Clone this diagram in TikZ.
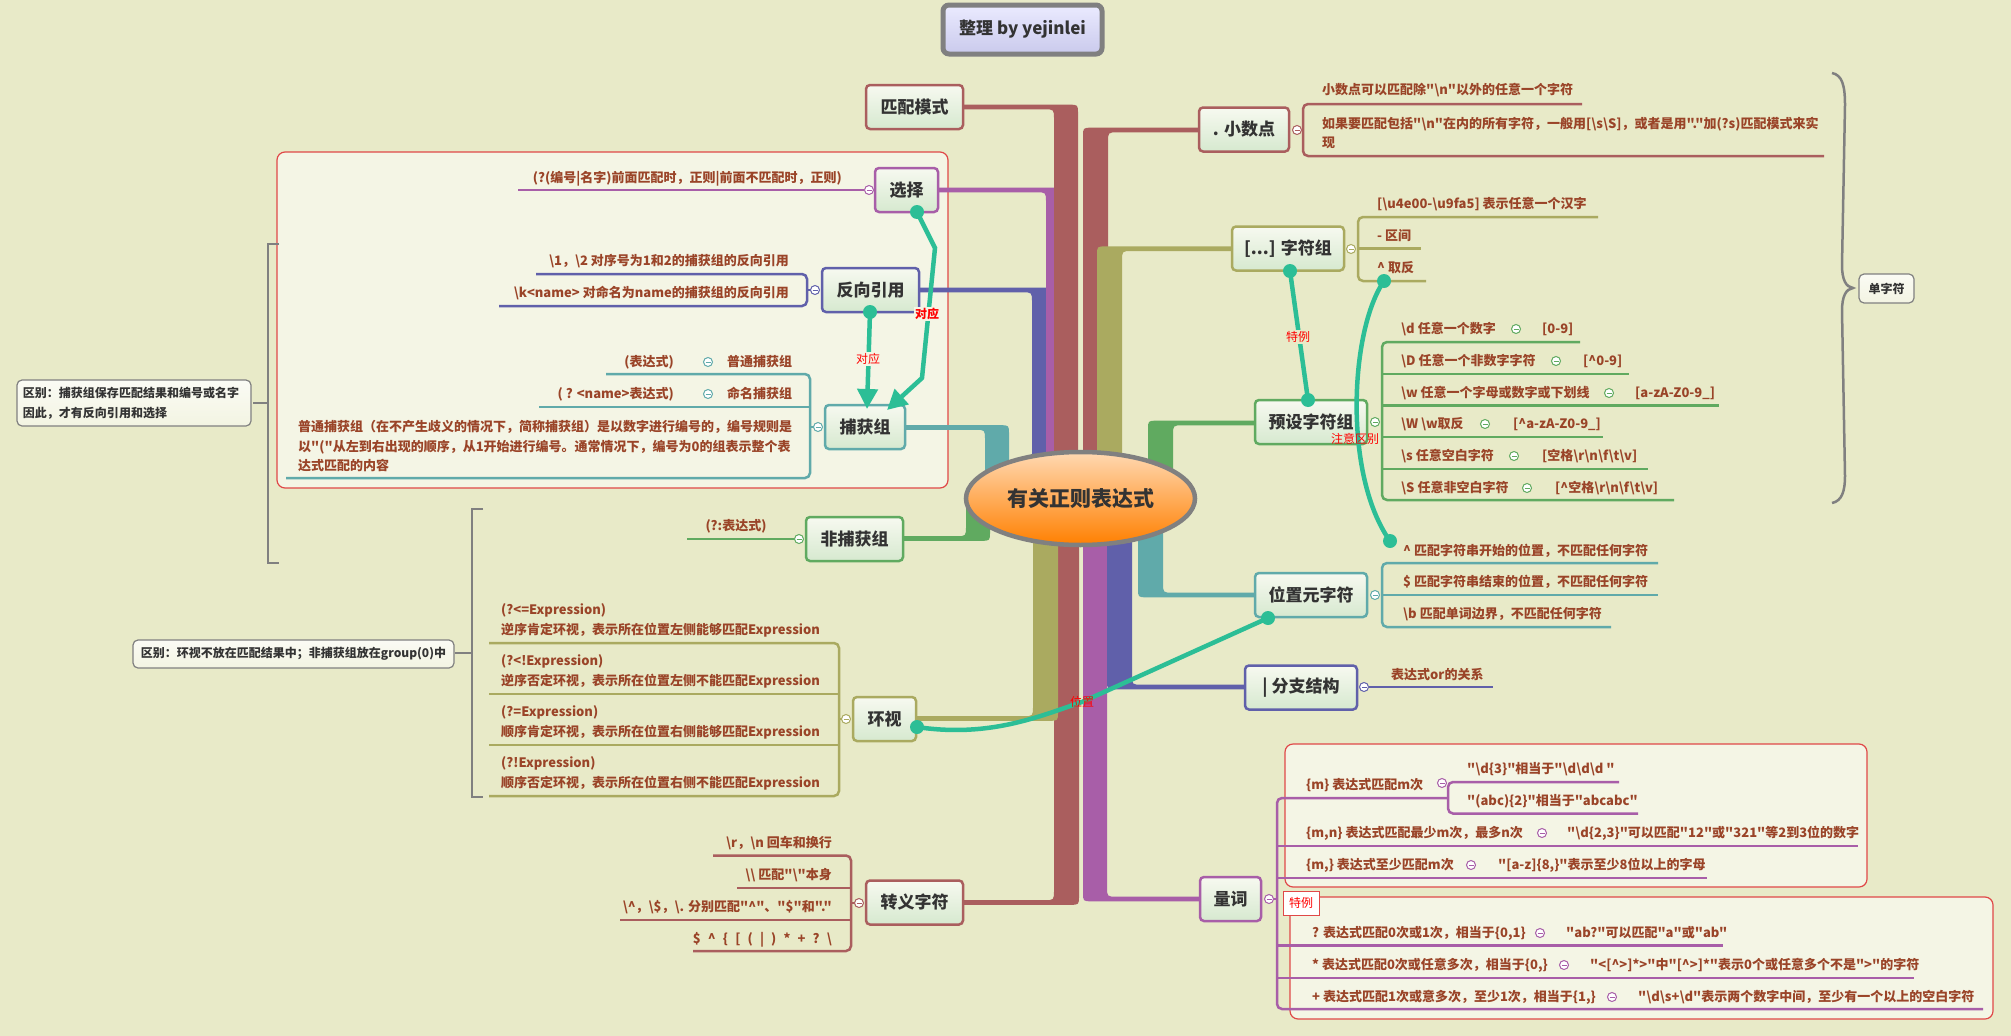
\documentclass[tikz,border=0pt]{standalone}
\usepackage{fontspec}
\setmainfont{Noto Sans CJK SC}[Ligatures=TeXOff]
\usetikzlibrary{shapes.geometric,arrows.meta,shadings}
\definecolor{bg}{HTML}{E8EAC8}
\definecolor{framefill}{HTML}{F4F5E5}
\definecolor{framered}{HTML}{E04848}
\definecolor{ctxt}{HTML}{9A4428}
\definecolor{maintxt}{HTML}{333333}
\definecolor{bRed}{HTML}{AA5E5E}
\definecolor{bPur}{HTML}{A85EA8}
\definecolor{bBlu}{HTML}{6060AA}
\definecolor{bTea}{HTML}{60AAAA}
\definecolor{bGre}{HTML}{60AA60}
\definecolor{bOli}{HTML}{AAAA60}
\definecolor{conn}{HTML}{2CBE96}
\definecolor{boxtop}{HTML}{F7F9F0}
\definecolor{boxbot}{HTML}{D6E9CF}
\definecolor{gr}{HTML}{808080}
\newcommand\mmbranch[6]{%
 \pgfmathsetmacro\mmS{sign(#5-#2)}%
 \pgfmathsetmacro\mmD{sign(#6-#3)}%
 \pgfmathsetmacro\mmYA{#3-\mmD*2.3}%
 \pgfmathsetmacro\mmYB{#3+\mmD*2.3}%
 \pgfmathsetmacro\mmXO{#5-\mmS*9}%
 \pgfmathsetmacro\mmYAR{\mmYA+\mmD*9}%
 \pgfmathsetmacro\mmYBR{\mmYB+\mmD*10}%
 \pgfmathsetmacro\mmXI{#4-\mmS*10}%
 \fill[#1] (#2,\mmYA) -- (\mmXO,\mmYA) .. controls (#5,\mmYA) .. (#5,\mmYAR) -- (#5,#6) -- (#4,#6) -- (#4,\mmYBR) .. controls (#4,\mmYB) .. (\mmXI,\mmYB) -- (#2,\mmYB) -- cycle;}
\newcommand\mmcirc[4]{%
 \node[circle, draw=#4, fill=white, line width=1, minimum size=9pt, inner sep=0] (#1) at (#2,#3) {};
 \draw[#4, line width=1] (#2-2.5,#3) -- (#2+2.5,#3);}
\newcommand\mmsp{\hspace{0.55em}}
\begin{document}
\begin{tikzpicture}[x=1pt,y=-1pt,
  mainbox/.style={draw=#1, line width=2.5pt, rounded corners=4pt, top color=boxtop, bottom color=boxbot, font=\fontsize{17}{20}\selectfont\bfseries, text=maintxt, inner sep=0, minimum height=44pt},
  ctx/.style={font=\fontsize{13}{20}\selectfont\bfseries, text=ctxt, inner sep=0, text height=11pt, text depth=2.5pt},
  cl/.style={draw=#1, line width=2.5pt, rounded corners=5pt},
  frame/.style={draw=framered, fill=framefill, line width=1.2pt, rounded corners=8pt},
  notebox/.style={draw=gr, line width=1.2pt, rounded corners=5pt, top color=white!60!framefill, bottom color=framefill!90!bg, font=\fontsize{12}{20}\selectfont\bfseries, text=maintxt, align=left, inner sep=0},
  cn/.style={draw=conn, line width=4.5pt},
  lab/.style={font=\fontsize{12}{14}\selectfont, text=red, inner sep=1pt},
  brk/.style={draw=gr, line width=2pt}]
\fill[bg] (0,0) rectangle (2011,1036);
\useasboundingbox (0,0) rectangle (2011,1036);

% frames
\draw[frame] (277,152) rectangle (948,488);
\draw[frame] (1285,744) rectangle (1867,887);
\draw[frame] (1290,897) rectangle (1993,1019);

% branches
\mmbranch{bBlu}{919}{290}{1032}{1056}{470}
\mmbranch{bPur}{938}{190}{1046}{1070}{470}
\mmbranch{bRed}{963}{107}{1054}{1078}{470}
\mmbranch{bTea}{905}{427.5}{985}{1009}{478}
\mmbranch{bGre}{903}{538.5}{966}{990}{505}
\mmbranch{bRed}{963}{902.5}{1054}{1079}{530}
\mmbranch{bOli}{916}{718.5}{1033}{1058}{530}
\mmbranch{bRed}{1199}{130}{1108}{1083}{470}
\mmbranch{bOli}{1232}{248.7}{1122}{1097}{470}
\mmbranch{bGre}{1255}{423}{1173}{1148}{480}
\mmbranch{bTea}{1255}{595}{1163}{1138}{520}
\mmbranch{bPur}{1200}{899}{1107}{1083}{530}
\mmbranch{bBlu}{1245}{687}{1132}{1107}{530}

% centre
\node[ellipse, draw=gr, line width=4.5pt, top color=orange!30!white, bottom color=orange, minimum width=229pt, minimum height=93pt, inner sep=0, font=\fontsize{21}{24}\selectfont\bfseries, text=maintxt] (center) at (1080.5,498.5) {有关正则表达式};

% title
\node[draw=gr, line width=5pt, rounded corners=6pt, top color=blue!8!white, bottom color=blue!30!white!75!gray!60!white, minimum width=159pt, minimum height=49pt, inner sep=0, font=\fontsize{17}{20}\selectfont\bfseries, text=maintxt] (title) at (1022.5,29.5) {整理 by yejinlei};

% ---- child lines ----
\draw[cl=bRed] (1582,104) -- (1303,104) -- (1303,156) -- (1824,156);
\draw[cl=bOli] (1598,217) -- (1358,217) -- (1358,281) -- (1426,281);
\draw[cl=bOli] (1358,248.5) -- (1421,248.5);
\draw[cl=bGre] (1580,342) -- (1382,342) -- (1382,500) -- (1674,500);
\draw[cl=bGre] (1382,374) -- (1629,374);
\draw[cl=bGre] (1382,405.5) -- (1719,405.5);
\draw[cl=bGre] (1382,437) -- (1603,437);
\draw[cl=bGre] (1382,469) -- (1648,469);
\draw[cl=bTea] (1658,563) -- (1382,563) -- (1382,627) -- (1611,627);
\draw[cl=bTea] (1382,595) -- (1658,595);
\draw[cl=bBlu] (1369,687) -- (1493,687);
\draw[cl=bPur] (1448,798) -- (1277,798) -- (1277,1009) -- (1983,1009);
\draw[cl=bPur] (1277,846) -- (1858,846);
\draw[cl=bPur] (1277,878) -- (1707,878);
\draw[cl=bPur] (1277,945.5) -- (1723,945.5);
\draw[cl=bPur] (1277,978) -- (1914,978);
\draw[cl=bPur] (1619,782) -- (1448,782) -- (1448,813.5) -- (1638,813.5);
\draw[cl=bPur] (1269,899) -- (1277,899);
\draw[cl=bPur] (518,190) -- (864,190);
\draw[cl=bBlu] (536,274) -- (807,274) -- (807,306) -- (499,306);
\draw[cl=bBlu] (807,290) -- (815,290);
\draw[cl=bTea] (606,374) -- (810,374) -- (810,478) -- (286,478);
\draw[cl=bTea] (539,407) -- (810,407);
\draw[cl=bTea] (810,427) -- (818,427);
\draw[cl=bGre] (687,539) -- (799,539);
\draw[cl=bOli] (489,643) -- (839,643) -- (839,796) -- (489,796);
\draw[cl=bOli] (489,694) -- (839,694);
\draw[cl=bOli] (489,745) -- (839,745);
\draw[cl=bOli] (839,719) -- (846,719);
\draw[cl=bRed] (713,855.5) -- (851,855.5) -- (851,951) -- (693,951);
\draw[cl=bRed] (737,888) -- (851,888);
\draw[cl=bRed] (620,920) -- (851,920);
\draw[cl=bRed] (851,903) -- (859,903);

% brackets
\draw[brk] (279,244) -- (268,244) -- (268,563) -- (279,563);
\draw[brk] (268,403) -- (253,403);
\draw[brk] (483,508.5) -- (472,508.5) -- (472,797) -- (483,797);
\draw[brk] (472,653) -- (455,653);
% brace
\draw[draw=gr, line width=2.5pt] (1832,73) .. controls (1842,75) and (1845,85) .. (1845,105) -- (1842,265) .. controls (1842,280) and (1846,287) .. (1853,288) .. controls (1846,289) and (1842,296) .. (1842,311) -- (1845,476) .. controls (1845,491) and (1842,501) .. (1832,503);

% ---- main nodes ----
\node[mainbox=bRed, minimum width=97pt] (pipei) at (914.5,107) {匹配模式};
\node[mainbox=bPur, minimum width=63pt] (xuanze) at (906.5,190) {选择};
\node[mainbox=bBlu, minimum width=97pt] (fanxiang) at (870.5,290) {反向引用};
\node[mainbox=bTea, minimum width=80pt] (buhuo) at (865,427) {捕获组};
\node[mainbox=bGre, minimum width=97pt] (feibuhuo) at (854.5,539) {非捕获组};
\node[mainbox=bOli, minimum width=63pt] (huanshi) at (884.5,719) {环视};
\node[mainbox=bRed, minimum width=97pt] (zhuanyi) at (914.5,902.5) {转义字符};
\node[mainbox=bRed, minimum width=90pt] (dian) at (1244,129.5) {. 小数点};
\node[mainbox=bOli, minimum width=112pt] (zifuzu) at (1288,248.5) {[...] 字符组};
\node[mainbox=bGre, minimum width=112pt] (yushe) at (1311,422) {预设字符组};
\node[mainbox=bTea, minimum width=112pt] (weizhi) at (1311,595) {位置元字符};
\node[mainbox=bBlu, minimum width=112pt] (fenzhi) at (1301,687.5) {| 分支结构};
\node[mainbox=bPur, minimum width=61pt] (liangci) at (1230.5,899) {量词};

% notes
\node[notebox, minimum width=234pt, minimum height=46pt, text width=222pt] (note1) at (134,403) {\fontsize{12}{20}\selectfont 区别：捕获组保存匹配结果和编号或名字\\因此，才有反向引用和选择};
\node[notebox, minimum width=321pt, minimum height=28pt] (note2) at (293.5,654) {区别：环视不放在匹配结果中；非捕获组放在group(0)中};
\node[notebox, minimum width=55pt, minimum height=29pt] (dzf) at (1886.5,288.5) {单字符};

% ---- texts right ----
\node[ctx, anchor=west] (d1) at (1322,90) {小数点可以匹配除"\textbackslash n"以外的任意一个字符};
\node[ctx, anchor=west] (d2) at (1322,124) {如果要匹配包括"\textbackslash n"在内的所有字符，一般用[\textbackslash s\textbackslash S]，或者是用"."加(?s)匹配模式来实};
\node[ctx, anchor=west] (d2b) at (1322,143) {现};
\node[ctx, anchor=west] (z1) at (1377,204) {[\textbackslash u4e00-\textbackslash u9fa5] 表示任意一个汉字};
\node[ctx, anchor=west] (z2) at (1377,236) {- 区间};
\node[ctx, anchor=west] (z3) at (1377,268) {\textasciicircum{} 取反};

\node[ctx, anchor=west] (y1) at (1401,329) {\textbackslash d 任意一个数字};
\node[ctx, anchor=west] (y1s) at (1542,329) {[0-9]};
\node[ctx, anchor=west] (y2) at (1401,361) {\textbackslash D 任意一个非数字字符};
\node[ctx, anchor=west] (y2s) at (1583,361) {[\textasciicircum 0-9]};
\node[ctx, anchor=west] (y3) at (1401,393) {\textbackslash w 任意一个字母或数字或下划线};
\node[ctx, anchor=west] (y3s) at (1635,393) {[a-zA-Z0-9\_]};
\node[ctx, anchor=west] (y4) at (1401,424) {\textbackslash W \textbackslash w取反};
\node[ctx, anchor=west] (y4s) at (1513,424) {[\textasciicircum a-zA-Z0-9\_]};
\node[ctx, anchor=west] (y5) at (1401,456) {\textbackslash s 任意空白字符};
\node[ctx, anchor=west] (y5s) at (1542,456) {[空格\textbackslash r\textbackslash n\textbackslash f\textbackslash t\textbackslash v]};
\node[ctx, anchor=west] (y6) at (1401,488) {\textbackslash S 任意非空白字符};
\node[ctx, anchor=west] (y6s) at (1555,488) {[\textasciicircum 空格\textbackslash r\textbackslash n\textbackslash f\textbackslash t\textbackslash v]};

\node[ctx, anchor=west] (w1) at (1403,551) {\textasciicircum{} 匹配字符串开始的位置，不匹配任何字符};
\node[ctx, anchor=west] (w2) at (1403,582) {\$ 匹配字符串结束的位置，不匹配任何字符};
\node[ctx, anchor=west] (w3) at (1403,614.5) {\textbackslash b 匹配单词边界，不匹配任何字符};
\node[ctx, anchor=west] (f1) at (1391,675) {表达式or的关系};

\node[ctx, anchor=west] (l1) at (1306,785) {\{m\} 表达式匹配m次};
\node[ctx, anchor=west] (l1a) at (1467,769) {"\textbackslash d\{3\}"相当于"\textbackslash d\textbackslash d\textbackslash d "};
\node[ctx, anchor=west] (l1b) at (1467,801) {"(abc)\{2\}"相当于"abcabc"};
\node[ctx, anchor=west] (l2) at (1306,833) {\{m,n\} 表达式匹配最少m次，最多n次};
\node[ctx, anchor=west] (l2s) at (1567,833) {"\textbackslash d\{2,3\}"可以匹配"12"或"321"等2到3位的数字};
\node[ctx, anchor=west] (l3) at (1306,865) {\{m,\} 表达式至少匹配m次};
\node[ctx, anchor=west] (l3s) at (1498,865) {"[a-z]\{8,\}"表示至少8位以上的字母};
\node[ctx, anchor=west] (l4) at (1312,933) {? 表达式匹配0次或1次，相当于\{0,1\}};
\node[ctx, anchor=west] (l4s) at (1566,933) {"ab?"可以匹配"a"或"ab"};
\node[ctx, anchor=west] (l5) at (1312,965) {* 表达式匹配0次或任意多次，相当于\{0,\}};
\node[ctx, anchor=west] (l5s) at (1590,965) {"<[\textasciicircum >]*>"中"[\textasciicircum >]*"表示0个或任意多个不是">"的字符};
\node[ctx, anchor=west] (l6) at (1312,997) {+ 表达式匹配1次或意多次，至少1次，相当于\{1,\}};
\node[ctx, anchor=west] (l6s) at (1638,997) {"\textbackslash d\textbackslash s+\textbackslash d"表示两个数字中间，至少有一个以上的空白字符};
\node[draw=framered, fill=white, line width=1pt, minimum width=36pt, minimum height=24pt, inner sep=0, font=\fontsize{12}{14}\selectfont, text=red] (teli2) at (1301,903) {特例};

% ---- texts left ----
\node[ctx, anchor=east] (x1) at (842,178) {(?(编号|名字)前面匹配时，正则|前面不匹配时，正则)};
\node[ctx, anchor=east] (r1) at (789,261) {\textbackslash 1，\textbackslash 2 对序号为1和2的捕获组的反向引用};
\node[ctx, anchor=east] (r2) at (789,293) {\textbackslash k<name> 对命名为name的捕获组的反向引用};
\node[ctx, anchor=east] (b1s) at (674,362) {(表达式)};
\node[ctx, anchor=west] (b1) at (727,362) {普通捕获组};
\node[ctx, anchor=east] (b2s) at (674,394) {( ? <name>表达式)};
\node[ctx, anchor=west] (b2) at (727,394) {命名捕获组};
\node[ctx, anchor=west] (b3a) at (298,427) {普通捕获组（在不产生歧义的情况下，简称捕获组）是以数字进行编号的，编号规则是};
\node[ctx, anchor=west] (b3b) at (298,447) {以"("从左到右出现的顺序，从1开始进行编号。通常情况下，编号为0的组表示整个表};
\node[ctx, anchor=west] (b3c) at (298,466) {达式匹配的内容};
\node[ctx] (fb1) at (736,526) {(?:表达式)};
\node[ctx, anchor=west] (h1a) at (501,610) {(?<=Expression)};
\node[ctx, anchor=west] (h1b) at (501,630) {逆序肯定环视，表示所在位置左侧能够匹配Expression};
\node[ctx, anchor=west] (h2a) at (501,661) {(?<!Expression)};
\node[ctx, anchor=west] (h2b) at (501,681) {逆序否定环视，表示所在位置左侧不能匹配Expression};
\node[ctx, anchor=west] (h3a) at (501,712) {(?=Expression)};
\node[ctx, anchor=west] (h3b) at (501,732.5) {顺序肯定环视，表示所在位置右侧能够匹配Expression};
\node[ctx, anchor=west] (h4a) at (501,763.5) {(?!Expression)};
\node[ctx, anchor=west] (h4b) at (501,783.5) {顺序否定环视，表示所在位置右侧不能匹配Expression};
\node[ctx, anchor=east] (e1) at (832,843) {\textbackslash r，\textbackslash n 回车和换行};
\node[ctx, anchor=east] (e2) at (832,875) {\textbackslash\textbackslash{} 匹配"\textbackslash"本身};
\node[ctx, anchor=east] (e3) at (832,907) {\textbackslash\textasciicircum，\textbackslash\$，\textbackslash. 分别匹配"\textasciicircum"、"\$"和"."};
\node[ctx, anchor=east] (e4) at (832,939) {\$\mmsp\textasciicircum\mmsp\{\mmsp[\mmsp(\mmsp|\mmsp)\mmsp*\mmsp+\mmsp?\mmsp\textbackslash};

% ---- collapse circles ----
\mmcirc{c1}{1297}{130}{bRed}
\mmcirc{c2}{1351}{249}{bOli}
\mmcirc{c3}{1375}{422}{bGre}
\mmcirc{c3a}{1516}{329}{bGre}
\mmcirc{c3b}{1556}{361}{bGre}
\mmcirc{c3c}{1609}{393}{bGre}
\mmcirc{c3d}{1485}{424}{bGre}
\mmcirc{c3e}{1514}{456}{bGre}
\mmcirc{c3f}{1527}{488}{bGre}
\mmcirc{c4}{1375}{595}{bTea}
\mmcirc{c5}{1364}{687}{bBlu}
\mmcirc{c6}{1269}{899}{bPur}
\mmcirc{c6a}{1442}{783}{bPur}
\mmcirc{c6b}{1542}{833}{bPur}
\mmcirc{c6c}{1471}{865}{bPur}
\mmcirc{c6d}{1540}{933}{bPur}
\mmcirc{c6e}{1564}{965}{bPur}
\mmcirc{c6f}{1612}{997}{bPur}
\mmcirc{c7}{869}{190}{bPur}
\mmcirc{c8}{815}{290}{bBlu}
\mmcirc{c9}{818}{427}{bTea}
\mmcirc{c9a}{708}{362}{bTea}
\mmcirc{c9b}{708}{394}{bTea}
\mmcirc{c10}{799}{539}{bGre}
\mmcirc{c11}{846}{719}{bOli}
\mmcirc{c12}{859}{903}{bRed}

% ---- relationship connectors ----
\coordinate (xa) at (917,212);
\coordinate (xb) at (887,410);
\draw[cn, -{Triangle[length=20pt,width=20pt]}] (xa) -- (935,248) -- (922,378) -- (xb);
\fill[conn] (xa) circle[radius=7];
\coordinate (fa) at (870,312);
\coordinate (fb) at (867,409);
\draw[cn, -{Triangle[length=20pt,width=20pt]}] (fa) -- (fb);
\fill[conn] (fa) circle[radius=7];
\node[lab, fill=framefill, font=\fontsize{12}{14}\selectfont\bfseries] (dy1) at (927,314) {对应};
\node[lab, fill=framefill] (dy2) at (868,359) {对应};

\coordinate (ta) at (1290,271);
\coordinate (tb) at (1308,400);
\draw[cn] (ta) -- (tb);
\fill[conn] (ta) circle[radius=7];
\fill[conn] (tb) circle[radius=7];
\node[lab, fill=bg] (tl) at (1298,337) {特例};

\coordinate (qa) at (1384,281);
\coordinate (qb) at (1390,541);
\draw[cn] (qa) .. controls (1350,330) and (1343,475) .. (qb);
\fill[conn] (qa) circle[radius=7];
\fill[conn] (qb) circle[radius=7];
\node[lab] (ql) at (1355,439) {注意区别};

\coordinate (pa) at (917,727);
\coordinate (pb) at (1268,618);
\draw[cn] (pa) .. controls (990,738) and (1040,716) .. (1082,702) -- (pb);
\fill[conn] (pa) circle[radius=7];
\fill[conn] (pb) circle[radius=7];
\node[lab] (pl) at (1082,702) {位置};
\end{tikzpicture}
\end{document}
